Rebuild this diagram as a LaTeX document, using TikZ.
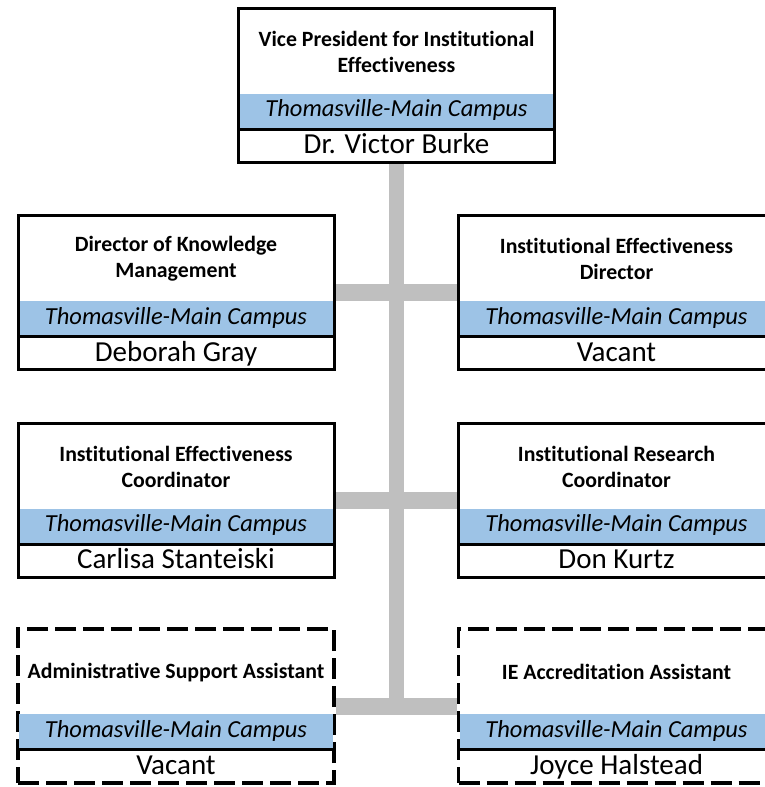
\documentclass[tikz,border=0pt]{standalone}
\usepackage{fontspec}
\setmainfont{Carlito}[Ligatures={NoCommon}]
\usetikzlibrary{calc,backgrounds}
\definecolor{bandblue}{RGB}{157,195,230}
\definecolor{linkgrey}{RGB}{191,191,191}
\tikzset{
  frame/.style={draw=black,line width=3pt,fill=white,minimum width=316pt,minimum height=154pt,inner sep=0pt},
  vacantframe/.style={frame,line width=3.5pt,dash pattern=on 21pt off 7pt},
  titletext/.style={font=\fontsize{21.8}{26}\selectfont\bfseries,align=center,inner sep=0pt},
  campustext/.style={font=\fontsize{24.5}{28}\selectfont\itshape,inner sep=0pt,anchor=base},
  nametext/.style={font=\fontsize{29}{33}\selectfont,inner sep=0pt,anchor=base},
  sepline/.style={draw=black,line width=3pt},
  hlink/.style={draw=linkgrey,line width=17pt},
  vlink/.style={draw=linkgrey,line width=15.5pt},
}
\newcommand\orgbox[5]{%
  \node[#2] (#1) at #3 {};
  \fill[bandblue] ($(#1.north west)+(3,87)$) rectangle ($(#1.north east)+(-3,122.5)$);
  \draw[sepline] ($(#1.north west)+(1.5,122.5)$) -- ($(#1.north east)+(-1.5,122.5)$);
  \node[titletext] (#1-t) at ($(#1.north)+(0,45)$) {#4};
  \node[campustext] (#1-c) at ($(#1.north)+(0,110)$) {Thomasville-Main Campus};
  \node[nametext] (#1-n) at ($(#1.north)+(0,147)$) {#5};
}
\begin{document}
\begin{tikzpicture}[x=1pt,y=-1pt]
  \useasboundingbox (0,0) rectangle (764,787);
  \orgbox{vp}{frame}{(396.5,85)}{Vice President for Institutional\\Effectiveness}{Dr. Victor Burke}
  \orgbox{dkm}{frame}{(176,292.5)}{Director of Knowledge\\Management}{Deborah Gray}
  \orgbox{ied}{frame}{(616.5,292.5)}{Institutional Effectiveness\\Director}{Vacant}
  \orgbox{iec}{frame}{(176,500)}{Institutional Effectiveness\\Coordinator}{Carlisa Stanteiski}
  \orgbox{irc}{frame}{(616.5,500)}{Institutional Research\\Coordinator}{Don Kurtz}
  \orgbox{asa}{vacantframe}{(176,706)}{Administrative Support Assistant}{Vacant}
  \orgbox{iea}{vacantframe}{(616.5,706)}{IE Accreditation Assistant}{Joyce Halstead}
  \begin{scope}[on background layer]
    \fill[white] (0,0) rectangle (764,787);
    \coordinate (vend) at ($(asa.east -| vp.south)+(0,8.5)$);
    \draw[vlink] (vp.south) -- (vend);
    \draw[hlink] (dkm.east) -- (ied.west);
    \draw[hlink] (iec.east) -- (irc.west);
    \draw[hlink] (asa.east) -- (iea.west);
  \end{scope}
\end{tikzpicture}
\end{document}
